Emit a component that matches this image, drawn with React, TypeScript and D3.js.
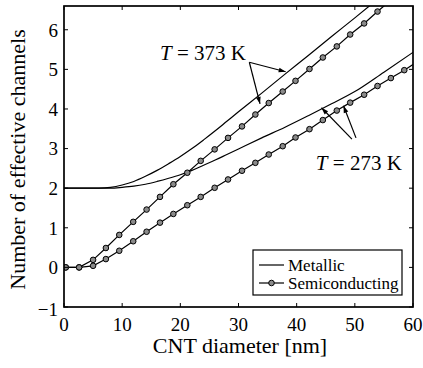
import React from "react";
import * as d3 from "d3";

const W = 423;
const H = 368;

// Data
const xTicks = [0, 10, 20, 30, 40, 50, 60];
const yTicks = [-1, 0, 1, 2, 3, 4, 5, 6];

const metal373X = [0, 6, 8, 10, 12, 14, 16, 18, 20, 22, 24, 26, 28, 30, 34, 38, 42, 46, 50, 53];
const metal373Y = [2, 2, 2.02, 2.08, 2.17, 2.3, 2.45, 2.62, 2.8, 3.0, 3.22, 3.45, 3.69, 3.93, 4.4, 4.88, 5.35, 5.83, 6.3, 6.66];

const metal273X = [0, 8, 10, 12, 14, 16, 18, 20, 22, 24, 26, 28, 30, 34, 38, 42, 46, 50, 55, 60];
const metal273Y = [2, 2, 2.02, 2.05, 2.1, 2.17, 2.25, 2.34, 2.45, 2.58, 2.71, 2.85, 2.99, 3.27, 3.54, 3.83, 4.13, 4.44, 4.93, 5.43];

const semiX = [0.3, 2.6, 5.0, 7.2, 9.5, 11.9, 14.2, 16.5, 18.8, 21.2, 23.5, 25.9, 28.2, 30.6, 32.9, 35.2, 37.6, 39.8, 42.2, 44.5, 46.9, 49.2, 51.6, 53.9, 56.2, 58.5, 60.8];
const semi373Y = [0, 0, 0.19, 0.49, 0.82, 1.15, 1.46, 1.78, 2.1, 2.39, 2.69, 2.98, 3.27, 3.56, 3.86, 4.15, 4.44, 4.71, 5.01, 5.3, 5.58, 5.88, 6.16, 6.46, 6.75, 7.04, 7.33];
const semi273Y = [0, 0, 0.04, 0.21, 0.42, 0.66, 0.9, 1.13, 1.35, 1.57, 1.78, 2.01, 2.22, 2.44, 2.64, 2.85, 3.06, 3.28, 3.49, 3.72, 3.96, 4.16, 4.36, 4.58, 4.78, 4.98, 5.2];

// Annotations in data units: label start x, baseline y
const labels = [
  { text: "373 K", x: 16.5, y: 5.24 },
  { text: "273 K", x: 43.3, y: 2.46 },
];
// arrows: [x0, y0, x1, y1] (tail -> head)
const arrows = [
  [31.86, 5.18, 38.11, 4.94],
  [31.86, 5.18, 33.7, 4.13],
  [49.5, 3.24, 44.27, 4.03],
  [50.2, 3.27, 48.05, 4.08],
];

const FONT = "'Liberation Serif', 'Times New Roman', 'DejaVu Serif', serif";

export default function App() {
  const left = 64, right = 413, top = 6, bottom = 307;
  const x = d3.scaleLinear().domain([0, 60]).range([left, right]);
  const y = d3.scaleLinear().domain([-1, 6.6]).range([bottom, top]);

  const line = d3
    .line<[number, number]>()
    .x((d) => x(d[0]))
    .y((d) => y(d[1]));
  const smooth = d3
    .line<[number, number]>()
    .x((d) => x(d[0]))
    .y((d) => y(d[1]))
    .curve(d3.curveMonotoneX);

  const m373 = metal373X.map((v, i) => [v, metal373Y[i]] as [number, number]);
  const m273 = metal273X.map((v, i) => [v, metal273Y[i]] as [number, number]);
  const s373 = semiX.map((v, i) => [v, semi373Y[i]] as [number, number]);
  const s273 = semiX.map((v, i) => [v, semi273Y[i]] as [number, number]);

  const tick = 4;
  const ts = (size: number, extra: React.CSSProperties = {}): React.CSSProperties => ({
    fontFamily: FONT,
    fontSize: size,
    ...extra,
  });

  const arrowHead = (a: number[]) => {
    const [x0, y0, x1, y1] = [x(a[0]), y(a[1]), x(a[2]), y(a[3])];
    const ang = Math.atan2(y1 - y0, x1 - x0);
    const L = 7, Wd = 2.4;
    const bx = x1 - L * Math.cos(ang), by = y1 - L * Math.sin(ang);
    const px = -Math.sin(ang) * Wd, py = Math.cos(ang) * Wd;
    return `M${x1},${y1}L${bx + px},${by + py}L${bx - px},${by - py}Z`;
  };

  return (
    <svg
      width={W}
      height={H}
      style={{ position: "absolute", left: 0, top: 0, background: "#fff" }}
    >
      <defs>
        <clipPath id="plotclip">
          <rect x={left} y={top} width={right - left} height={bottom - top} />
        </clipPath>
      </defs>
      <rect x={0} y={0} width={W} height={H} fill="#fff" />

      <g clipPath="url(#plotclip)" fill="none" stroke="#000" strokeWidth={1.2}>
        <path d={smooth(m373) || ""} />
        <path d={smooth(m273) || ""} />
        <path d={line(s373) || ""} />
        <path d={line(s273) || ""} />
        {[s373, s273].map((s, k) =>
          s.map((d, i) => (
            <circle
              key={`${k}-${i}`}
              cx={x(d[0])}
              cy={y(d[1])}
              r={2.8}
              fill="#8a8a8a"
              stroke="#000"
              strokeWidth={1}
            />
          ))
        )}
      </g>

      {/* ticks */}
      <g stroke="#000" strokeWidth={1}>
        {xTicks.map((t) => (
          <g key={`xt${t}`}>
            <line x1={x(t)} x2={x(t)} y1={bottom} y2={bottom - tick} />
            <line x1={x(t)} x2={x(t)} y1={top} y2={top + tick} />
          </g>
        ))}
        {yTicks.map((t) => (
          <g key={`yt${t}`}>
            <line x1={left} x2={left + tick} y1={y(t)} y2={y(t)} />
            <line x1={right} x2={right - tick} y1={y(t)} y2={y(t)} />
          </g>
        ))}
      </g>

      {/* frame */}
      <rect
        x={left}
        y={top}
        width={right - left}
        height={bottom - top}
        fill="none"
        stroke="#000"
        strokeWidth={1.7}
      />

      {/* tick labels */}
      <g fill="#000">
        {xTicks.map((t) => (
          <text key={`xl${t}`} x={x(t)} y={331} textAnchor="middle" style={ts(19)}>
            {t}
          </text>
        ))}
        {yTicks.map((t) => (
          <text
            key={`yl${t}`}
            x={58}
            y={y(t) + (t === -1 ? 2 : 0)}
            dy="0.36em"
            textAnchor="end"
            style={ts(19)}
          >
            {t < 0 ? `\u2212${Math.abs(t)}` : t}
          </text>
        ))}
      </g>

      {/* axis labels */}
      <text x={240} y={353} textAnchor="middle" style={ts(22)}>
        CNT diameter [nm]
      </text>
      <text
        transform={`translate(25,159.5) rotate(-90)`}
        textAnchor="middle"
        style={ts(22)}
      >
        Number of effective channels
      </text>

      {/* annotations */}
      {labels.map((l) => (
        <text key={l.text} x={x(l.x)} y={y(l.y)} style={ts(21)}>
          <tspan style={{ fontStyle: "italic" }}>T</tspan>
          {" = " + l.text}
        </text>
      ))}
      {arrows.map((a, i) => (
        <g key={`ar${i}`}>
          <line
            x1={x(a[0])}
            y1={y(a[1])}
            x2={x(a[2])}
            y2={y(a[3])}
            stroke="#000"
            strokeWidth={1.2}
          />
          <path d={arrowHead(a)} fill="#000" />
        </g>
      ))}

      {/* legend */}
      <g>
        <rect x={253} y={250} width={149} height={45} fill="#fff" stroke="#000" strokeWidth={1.2} />
        <line x1={259} x2={284} y1={265} y2={265} stroke="#000" strokeWidth={1.2} />
        <text x={288} y={270.5} style={ts(17)}>Metallic</text>
        <line x1={259} x2={284} y1={283} y2={283} stroke="#000" strokeWidth={1.2} />
        <circle cx={271.5} cy={283} r={2.8} fill="#8a8a8a" stroke="#000" strokeWidth={1} />
        <text x={288} y={288.5} style={ts(17)}>Semiconducting</text>
      </g>
    </svg>
  );
}
